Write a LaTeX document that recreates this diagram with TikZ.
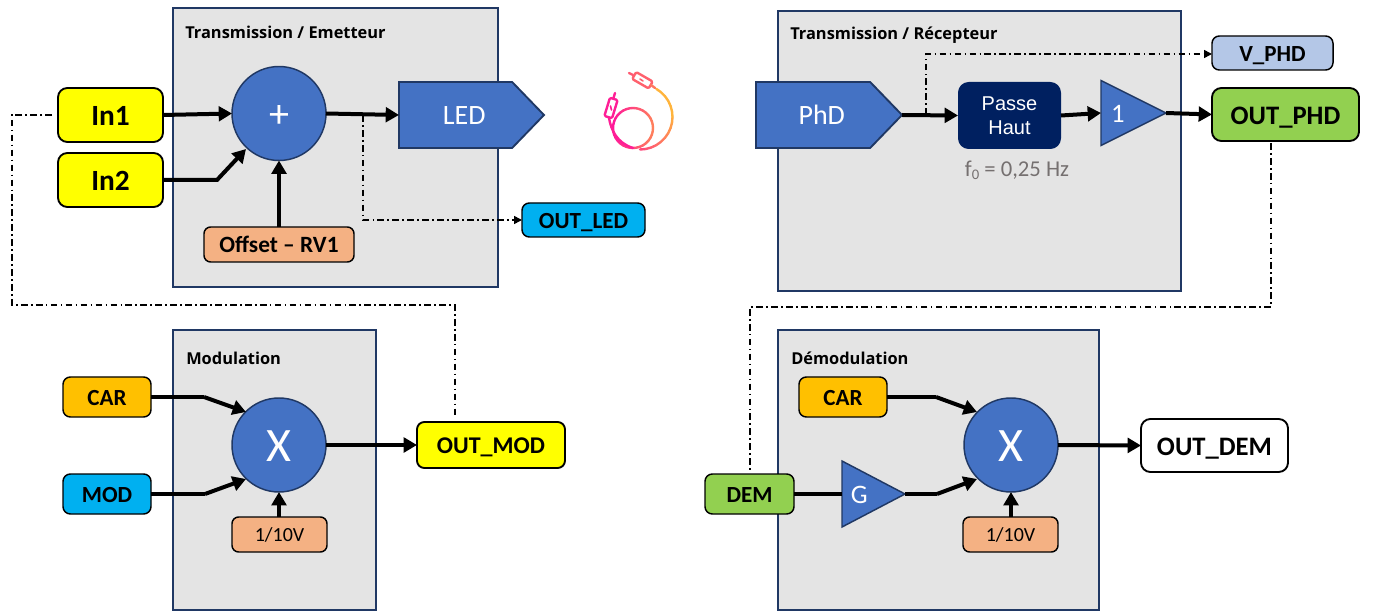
\documentclass[tikz,border=0pt]{standalone}
\usepackage{fontspec}
\setmainfont{Carlito}
\newfontfamily\arialf{Liberation Sans}
\newfontfamily\titlef{Open Sans}
\usetikzlibrary{arrows.meta,shapes.geometric,shapes.symbols}
\definecolor{panelgrey}{HTML}{E4E4E4}
\definecolor{panelline}{HTML}{203864}
\definecolor{blockblue}{HTML}{4472C4}
\definecolor{navyblock}{HTML}{002060}
\definecolor{yel}{HTML}{FFFF00}
\definecolor{orangebox}{HTML}{FFC000}
\definecolor{peach}{HTML}{F4B183}
\definecolor{cyanbox}{HTML}{00B0F0}
\definecolor{greenbox}{HTML}{92D050}
\definecolor{paleblue}{HTML}{B4C7E7}
\definecolor{greytext}{HTML}{757070}
\definecolor{iconpink}{HTML}{FF1E96}
\definecolor{iconorange}{HTML}{FFB43C}
\tikzset{
  x=0.75pt,y=-0.75pt,
  sz/.style n args={2}{minimum width=#1*0.75pt,minimum height=#2*0.75pt,inner sep=0pt,outer sep=0pt},
  capb/.style={font=\fontsize{#1}{#1}\bfseries,text height=0.64*#1 pt+1.5pt,text depth=0pt},
  capr/.style={font=\fontsize{#1}{#1}\selectfont,text height=0.64*#1 pt+1.5pt,text depth=0pt},
  panel/.style={draw=panelline,fill=panelgrey,line width=1.1pt},
  paneltitle/.style={anchor=west,inner sep=0pt,font=\titlef\fontsize{12.3}{14}\bfseries},
  tag/.style={draw=black,line width=1.1pt,rounded corners=5.5pt,capb=17.3},
  bigtag/.style={draw=black,line width=1.4pt,rounded corners=7pt,capb=20},
  plainlbl/.style={draw=black,line width=1.1pt,rounded corners=5pt,fill=peach,capr=15},
  op/.style={circle,draw=panelline,line width=1.1pt,fill=blockblue,text=white,minimum size=94*0.75pt,inner sep=0pt,outer sep=0pt},
  amp/.style={isosceles triangle,isosceles triangle apex angle=60,isosceles triangle stretches,draw=panelline,line width=1.1pt,fill=blockblue,inner sep=0pt,outer sep=0pt,text=white,anchor=lower side},
  plate/.style={signal,signal to=east,draw=panelline,line width=1.4pt,fill=blockblue,text=white,anchor=west,capr=21},
  link/.style={line width=3pt,-{Triangle[length=10pt,width=11pt]}},
  plainlink/.style={line width=3pt},
  tap/.style={line width=1.1pt,dash pattern=on 5pt off 2.5pt on 1.2pt off 2.5pt},
  taparrow/.style={tap,-{Triangle[length=6pt,width=6pt]}},
  cable/.style={line width=1.8pt,line cap=round,line join=round},
}
\begin{document}
\begin{tikzpicture}
\useasboundingbox (0,0) rectangle (1374,616);
% panels
\draw[panel] (173,8) rectangle (498,287);
\draw[panel] (778,11) rectangle (1181,291);
\draw[panel] (173,330) rectangle (376,610);
\draw[panel] (778,330) rectangle (1099,610);
\node[paneltitle] (t1) at (185,32) {Transmission / Emetteur};
\node[paneltitle] (t2) at (790,35) {Transmission / Récepteur};
\node[paneltitle] (t3) at (186,358) {Modulation};
\node[paneltitle] (t4) at (791,358) {Démodulation};
% emitter
\node[bigtag,capb=22,fill=yel,sz={105}{54}] (in1) at (110.5,115) {In1};
\node[bigtag,capb=22,fill=yel,sz={105}{54}] (in2) at (110.5,180) {In2};
\node[op,capr=30] (plus) at (279,113.5) {+};
\node[plainlbl,sz={150}{35},capb=17.5] (offset) at (279,244.5) {Offset – RV1};
\node[plate,sz={145}{66},signal pointer angle=92] (led) at (399,115) {\hspace*{13pt}LED};
\node[tag,fill=cyanbox,sz={123}{34}] (outled) at (583.5,220) {OUT\_LED};
\coordinate (tapled) at (363,115);
\coordinate (in2bend) at (217,180);
\coordinate (plusin2) at (246,149);
% receiver
\node[plate,sz={146}{66},signal pointer angle=92] (phd) at (756,115) {\hspace*{13pt}PhD};
\node[fill=navyblock,rounded corners=8pt,text=white,sz={103}{67},align=center,font=\arialf\fontsize{15}{18}\selectfont] (hp) at (1009.5,115.5) {Passe\\Haut};
\node[amp,capr=20,minimum height=65*0.75pt,minimum width=65*0.75pt] (one) at (1101,113) {1};
\node[tag,fill=paleblue,sz={121}{34}] (vphd) at (1272.5,53) {V\_PHD};
\node[bigtag,fill=greenbox,sz={147}{53}] (outphd) at (1285.5,114.5) {OUT\_PHD};
\node[text=greytext,inner sep=0pt,font=\fontsize{17}{19}\selectfont] (f0) at (1017,170) {f\raisebox{-2.5pt}{\fontsize{11}{11}\selectfont 0} = 0,25 Hz};
\coordinate (tapphd) at (926,115);
% modulation
\node[tag,fill=orangebox,sz={88}{40}] (car1) at (107,397) {CAR};
\node[tag,fill=cyanbox,sz={88}{40}] (mod) at (107,494) {MOD};
\node[op,capr=36] (x1) at (279,445) {X};
\node[plainlbl,sz={95}{35}] (v1) at (279.5,534.5) {1/10V};
\node[tag,capb=18,line width=1.4pt,fill=yel,sz={148}{46}] (outmod) at (491,445) {OUT\_MOD};
\coordinate (car1bend) at (204,397);
\coordinate (x1in1) at (246,412);
\coordinate (mod1bend) at (205,494);
\coordinate (x1in2) at (246,479);
% demodulation
\node[tag,fill=orangebox,sz={88}{40}] (car2) at (843,397) {CAR};
\node[tag,fill=greenbox,sz={89}{40}] (dem) at (749.5,494) {DEM};
\node[amp,capr=20,minimum height=63*0.75pt,minimum width=66*0.75pt] (g) at (842,494) {G};
\node[op,capr=36] (x2) at (1011,445) {X};
\node[plainlbl,sz={95}{35}] (v2) at (1010.5,534.5) {1/10V};
\node[bigtag,fill=white,sz={147}{53}] (outdem) at (1214.5,445.5) {OUT\_DEM};
\coordinate (car2bend) at (936,397);
\coordinate (x2in1) at (977,412);
\coordinate (g2bend) at (937,494);
\coordinate (x2in2) at (977,479);
% thick connectors
\draw[link] (in1.east) -- (plus.west);
\draw[link] (in2.east) -- (in2bend) -- (plusin2);
\draw[link] (offset.north -| plus.south) -- (plus.south);
\draw[link] (plus.east) -- (led.west);
\draw[link] (phd.east) -- (hp.west);
\draw[link] (hp.east) -- (one.lower side);
\draw[link] (one.apex) -- (outphd.west);
\draw[plainlink] (car1.east) -- (car1bend);
\draw[link] (car1bend) -- (x1in1);
\draw[plainlink] (mod.east) -- (mod1bend);
\draw[link] (mod1bend) -- (x1in2);
\draw[link] (v1.north -| x1.south) -- (x1.south);
\draw[link] (x1.east) -- (outmod.west);
\draw[plainlink] (car2.east) -- (car2bend);
\draw[link] (car2bend) -- (x2in1);
\draw[plainlink] (dem.east) -- (g.lower side);
\draw[plainlink] (g.apex) -- (g2bend);
\draw[link] (g2bend) -- (x2in2);
\draw[link] (v2.north -| x2.south) -- (x2.south);
\draw[link] (x2.east) -- (outdem.west);
% thin tap lines
\coordinate (a1) at (52,115);
\coordinate (a2) at (12,115);
\coordinate (a3) at (12,305);
\coordinate (a4) at (455,305);
\coordinate (a5) at (455,416);
\draw[tap] (a1) -- (a2) -- (a3) -- (a4) -- (a5);
\coordinate (b1) at (1271,143);
\coordinate (b2) at (1271,307);
\coordinate (b3) at (750,307);
\coordinate (b4) at (750,473);
\draw[tap] (b1) -- (b2) -- (b3) -- (b4);
\coordinate (c2) at (363,220);
\draw[taparrow] (tapled) -- (c2) -- (outled.west);
\coordinate (d2) at (926,54);
\draw[taparrow] (tapphd) -- (d2) -- (vphd.west |- d2);
% cable icon
\foreach \a in {0,10,...,350}{
  \pgfmathsetmacro{\mix}{70-35*cos(\a+5)}
  \draw[cable,color=iconpink!\mix!iconorange] ({633+20*cos(\a)},{128-20*sin(\a)}) -- ({633+20*cos(\a+10)},{128-20*sin(\a+10)});
}
\foreach \a in {-90,-80,...,55}{
  \pgfmathsetmacro{\mix}{max(0,70-70*(\a+90)/90)}
  \draw[cable,color=iconpink!\mix!iconorange] ({640+32.5*cos(\a)},{117-32.5*sin(\a)}) -- ({640+32.5*cos(\a+10)},{117-32.5*sin(\a+10)});
}
\draw[cable,color=iconpink] (609,118) .. controls (611,130) and (617,143) .. (633,148);
\draw[cable,color=iconpink,rounded corners=1pt,rotate around={-17:(611,108)}] (607,98.5) rectangle (615,117.5);
\draw[cable,color=iconpink] (613.5,98) -- (615,93);
\draw[cable,color=iconpink,line width=1.2pt] (610.5,106) -- (611.5,110);
\draw[cable,color=iconpink!55!iconorange,rounded corners=1pt,rotate around={-30:(642,80)}] (633,76) rectangle (652,84);
\draw[cable,color=iconpink!60!iconorange] (633,75) -- (629,73);
\draw[cable,color=iconpink!55!iconorange,line width=1.2pt] (640,79) -- (643,81);
\draw[cable,color=iconorange!60!iconpink] (651,85) -- (655,88);
\end{tikzpicture}
\end{document}
